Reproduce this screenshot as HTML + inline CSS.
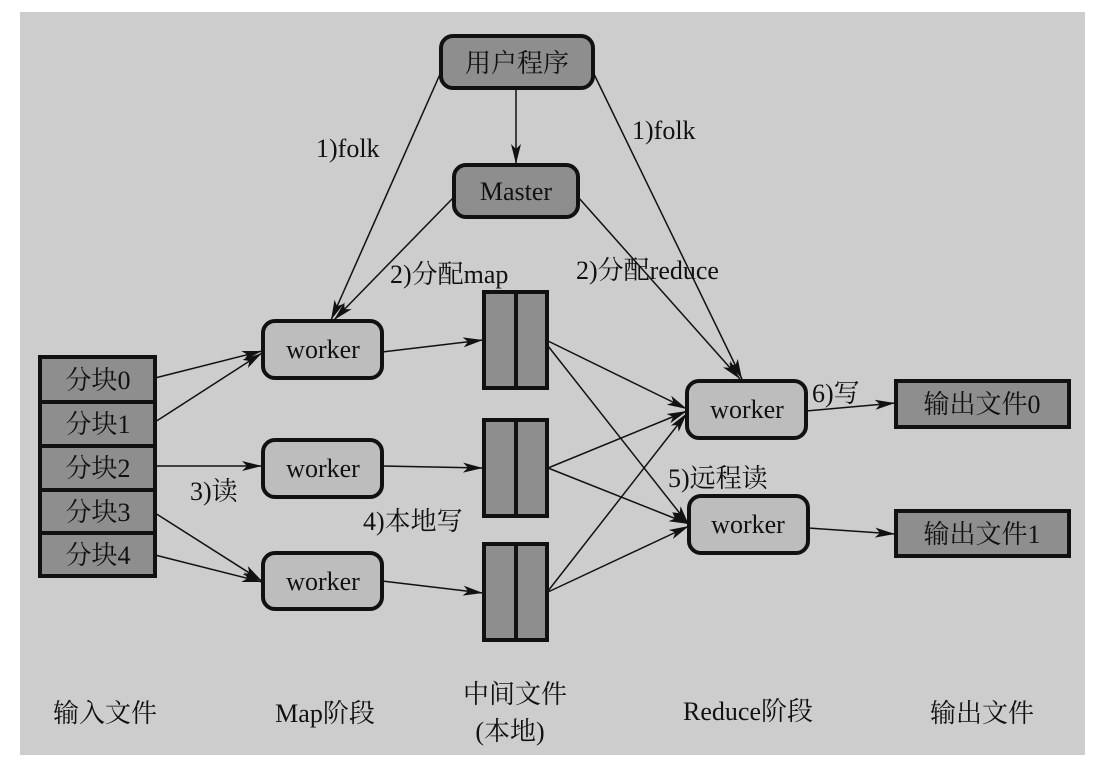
<!DOCTYPE html>
<html><head><meta charset="utf-8"><style>
html,body{margin:0;padding:0;background:#fff;}
svg{display:block;}
text{font-family:"Liberation Serif","Noto Serif CJK SC",serif;fill:#111;}
</style></head><body>
<svg width="1097" height="765" viewBox="0 0 1097 765" xmlns="http://www.w3.org/2000/svg">
<defs>
<marker id="a" viewBox="0 0 20 10" refX="20" refY="5" markerWidth="20" markerHeight="10" markerUnits="userSpaceOnUse" orient="auto">
<path d="M0,0 L20,5 L0,10 L5,5 Z" fill="#111"/>
</marker>
</defs>
<rect x="20" y="12" width="1065" height="743" fill="#cdcdcd"/>
<g stroke="#111" stroke-width="1.5" fill="none" marker-end="url(#a)">
<line x1="441" y1="72" x2="331" y2="320"/>
<line x1="516" y1="88" x2="516" y2="164"/>
<line x1="593" y1="72" x2="742" y2="379"/>
<line x1="454" y1="197" x2="334" y2="320"/>
<line x1="578" y1="197" x2="740" y2="379"/>
<line x1="155" y1="378" x2="262" y2="351"/>
<line x1="155" y1="422" x2="262" y2="353"/>
<line x1="155" y1="466" x2="262" y2="466"/>
<line x1="155" y1="513" x2="262" y2="581"/>
<line x1="155" y1="555" x2="262" y2="582"/>
<line x1="382" y1="352" x2="483" y2="340"/>
<line x1="382" y1="466" x2="483" y2="468"/>
<line x1="382" y1="581" x2="483" y2="593"/>
<line x1="548" y1="341" x2="687" y2="409"/>
<line x1="548" y1="346" x2="689" y2="525"/>
<line x1="548" y1="468" x2="687" y2="411"/>
<line x1="548" y1="468" x2="689" y2="524"/>
<line x1="548" y1="591" x2="687" y2="413"/>
<line x1="548" y1="592" x2="689" y2="526"/>
<line x1="806" y1="411" x2="895" y2="403"/>
<line x1="808" y1="528" x2="895" y2="534"/>
</g>
<g stroke="#111" stroke-width="4">
<rect x="441" y="36" width="152" height="52" rx="12" fill="#8e8e8e"/>
<rect x="454" y="165" width="124" height="52" rx="12" fill="#8e8e8e"/>
<rect x="263" y="321" width="119" height="57" rx="12" fill="#bdbdbd"/>
<rect x="263" y="440" width="119" height="57" rx="12" fill="#bdbdbd"/>
<rect x="263" y="553" width="119" height="56" rx="12" fill="#bdbdbd"/>
<rect x="687" y="381" width="119" height="57" rx="12" fill="#bdbdbd"/>
<rect x="689" y="496" width="119" height="57" rx="12" fill="#bdbdbd"/>
<rect x="40" y="357" width="115" height="219" fill="#8e8e8e"/>
<line x1="40" y1="402" x2="155" y2="402"/>
<line x1="40" y1="446" x2="155" y2="446"/>
<line x1="40" y1="490" x2="155" y2="490"/>
<line x1="40" y1="533" x2="155" y2="533"/>
<rect x="484" y="292" width="63" height="96" fill="#8e8e8e"/>
<line x1="516" y1="292" x2="516" y2="388"/>
<rect x="484" y="420" width="63" height="96" fill="#8e8e8e"/>
<line x1="516" y1="420" x2="516" y2="516"/>
<rect x="484" y="544" width="63" height="96" fill="#8e8e8e"/>
<line x1="516" y1="544" x2="516" y2="640"/>
<rect x="896" y="381" width="173" height="46" fill="#8e8e8e"/>
<rect x="896" y="511" width="173" height="45" fill="#8e8e8e"/>
</g>
<g font-size="26" text-anchor="middle">
<text x="517" y="72">用户程序</text>
<text x="516" y="200">Master</text>
<text x="323" y="358">worker</text>
<text x="323" y="477">worker</text>
<text x="323" y="590">worker</text>
<text x="747" y="418">worker</text>
<text x="748" y="533">worker</text>
<text x="98" y="389">分块0</text>
<text x="98" y="433">分块1</text>
<text x="98" y="477">分块2</text>
<text x="98" y="521">分块3</text>
<text x="98" y="564">分块4</text>
<text x="982" y="413">输出文件0</text>
<text x="982" y="543">输出文件1</text>
<text x="105" y="722">输入文件</text>
<text x="325" y="722">Map阶段</text>
<text x="515" y="703">中间文件</text>
<text x="510" y="740">(本地)</text>
<text x="748" y="720">Reduce阶段</text>
<text x="982" y="722">输出文件</text>
</g>
<g font-size="26">
<text x="316" y="157">1)folk</text>
<text x="632" y="139">1)folk</text>
<text x="390" y="283">2)分配map</text>
<text x="576" y="279">2)分配reduce</text>
<text x="190" y="500">3)读</text>
<text x="363" y="530">4)本地写</text>
<text x="668" y="487">5)远程读</text>
<text x="812" y="402">6)写</text>
</g>
</svg>
</body></html>
